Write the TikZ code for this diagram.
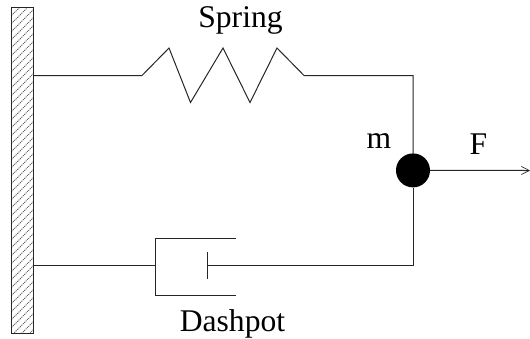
\documentclass[tikz,border=0pt]{standalone}
\usepackage{fontspec}
\setmainfont{Liberation Serif}
\usetikzlibrary{arrows.meta}
\tikzset{
  wire/.style={line width=1pt,black!85},
  hatchline/.style={line width=0.8pt,black!60,dash pattern=on 1.2pt off 0.8pt},
  lbl/.style={font=\fontsize{31.6}{32}\selectfont,inner sep=0pt,text=black,anchor=base},
  massdot/.style={circle,fill=black,minimum size=34pt,inner sep=0pt}
}
\begin{document}
\begin{tikzpicture}[x=1pt,y=-1pt]
\useasboundingbox (0,0) rectangle (530,338);
\begin{scope}
\clip (11.5,7.5) rectangle (33.5,333);
\foreach \k in {0,8,...,344}{
  \draw[hatchline] (11.5,7.5+\k) -- (33.5,7.5+\k-22);
}
\end{scope}
\node[draw=black!85,line width=1pt,minimum width=22pt,minimum height=325.5pt,inner sep=0pt] (wall) at (22.5,170.25) {};
\node[massdot] (mass) at (413,170.4) {};
\coordinate (sa) at (wall.east|-0,75.5);
\coordinate (sb) at (142,75.5);
\coordinate (sc) at (304,75.5);
\coordinate (corner1) at (413,75.5);
\coordinate (da) at (wall.east|-0,265);
\coordinate (db) at (155,265);
\coordinate (pist) at (207,265);
\coordinate (corner2) at (413,265);
\coordinate (pt) at (207,252);
\coordinate (pb) at (207,279);
\coordinate (tip) at (530,170.5);
\draw[wire] (sa) -- (sb) -- (169,48) -- (190.5,102.5) -- (223,48) -- (250,102.5) -- (277,48) -- (sc) -- (corner1) -- (mass);
\draw[wire] (da) -- (db);
\draw[wire] (236,238.5) -- (155,238.5) -- (155,295) -- (236,295);
\draw[wire] (pt) -- (pb);
\draw[wire] (pist) -- (corner2) -- (mass);
\draw[wire,-{Straight Barb[length=8pt,width=8pt,line width=0.6pt]}] (mass) -- (tip);
\node[lbl] (spring) at (240.5,27) {Spring};
\node[lbl] (dash) at (232.5,331) {Dashpot};
\node[lbl] (m) at (379,148) {m};
\node[lbl] (f) at (478.5,154) {F};
\end{tikzpicture}
\end{document}
